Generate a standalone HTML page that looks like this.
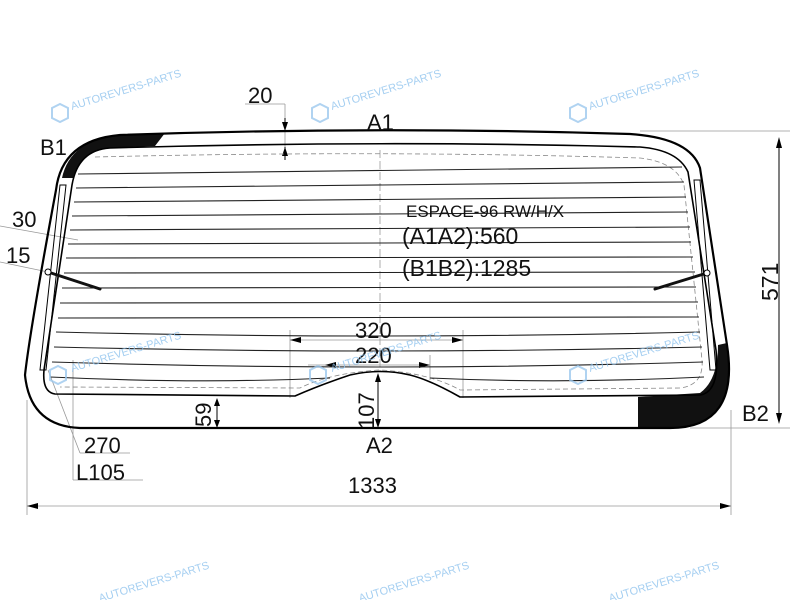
<!DOCTYPE html>
<html><head><meta charset="utf-8"><style>
html,body{margin:0;padding:0;background:#fff;}
svg{display:block;font-family:"Liberation Sans",sans-serif;}
</style></head><body>
<svg width="800" height="600" viewBox="0 0 800 600" xmlns="http://www.w3.org/2000/svg">
<rect width="800" height="600" fill="#fff"/>
<g stroke="#999" stroke-width="0.8" fill="none">
<line x1="640" y1="131" x2="790" y2="131"/>
<line x1="690" y1="428" x2="790" y2="428"/>
<line x1="27" y1="400" x2="27" y2="515"/>
<line x1="731" y1="410" x2="731" y2="515"/>
<line x1="27" y1="506" x2="731" y2="506"/>
<line x1="290" y1="330" x2="290" y2="398"/>
<line x1="463" y1="330" x2="463" y2="398"/>
<line x1="290" y1="340" x2="463" y2="340"/>
<line x1="308" y1="365" x2="430" y2="365"/>
<line x1="430" y1="355" x2="430" y2="380"/>
<line x1="73" y1="360" x2="73" y2="480"/>
<line x1="73" y1="480" x2="143" y2="480"/>
<line x1="80" y1="453" x2="130" y2="453"/>
<line x1="48" y1="370" x2="80" y2="453"/>
<line x1="0" y1="226" x2="78" y2="240"/>
<line x1="0" y1="262" x2="48" y2="272"/>
<line x1="380" y1="150" x2="380" y2="372" stroke-dasharray="8 3"/>
<line x1="285" y1="104" x2="285" y2="160"/>
<line x1="245" y1="104" x2="285" y2="104"/>
</g>
<g fill="#000">
<polygon points="779,137 776,148 782,148"/>
<polygon points="779,424 776,413 782,413"/>
<polygon points="27,506 38,503 38,509"/>
<polygon points="731,506 720,503 720,509"/>
<polygon points="290,340 301,337 301,343"/>
<polygon points="463,340 452,337 452,343"/>
<polygon points="325,365 336,362 336,368"/>
<polygon points="430,365 419,362 419,368"/>
<polygon points="285,131 282,122 288,122"/>
<polygon points="285,147 282,156 288,156"/>
<polygon points="217,398 214,406 220,406"/>
<polygon points="217,428 214,420 220,420"/>
<polygon points="378,373 375,382 381,382"/>
<polygon points="378,428 375,419 381,419"/>
</g>
<g stroke="#000" stroke-width="1">
<line x1="779" y1="140" x2="779" y2="420"/>
<line x1="217" y1="400" x2="217" y2="426"/>
<line x1="378" y1="375" x2="378" y2="426"/>
<line x1="285" y1="118" x2="285" y2="131"/>
<line x1="285" y1="147" x2="285" y2="160"/>
</g>
<path d="M62,178 Q70,140 120,135 L165,133 L155,146 L110,148 Q80,152 73,178 Z" fill="#111"/>
<path d="M638,397 L700,393 Q718,380 718,345 L727,343 Q740,420 680,428 L638,428 Z" fill="#111"/>
<path d="M120,135 Q380,126 630,134 Q690,138 700,168 L727,345 Q740,428 670,428 L80,428 Q30,426 25,375 Q30,330 56,190 Q62,140 120,135 Z" fill="none" stroke="#000" stroke-width="2.2"/>
<path d="M110,148 Q380,140 640,147 Q678,150 688,172 L716,350 Q720,392 700,395 L460,397 Q430,380 410,375 Q380,368 350,375 Q320,385 295,396 L55,394 Q42,392 44,370 L72,185 Q78,150 110,148 Z" fill="none" stroke="#000" stroke-width="1.6"/>
<path d="M95,157 Q380,150 640,158 Q676,162 684,185 L702,360 Q704,385 680,388 L460,390 Q430,373 380,370 Q330,373 300,388 L60,387" fill="none" stroke="#888" stroke-width="0.8" stroke-dasharray="5 3"/>
<path d="M60,185 L40,370 L46,370 L66,185 Z" fill="none" stroke="#000" stroke-width="1"/>
<path d="M700,180 L716,370 L710,370 L694,180 Z" fill="none" stroke="#000" stroke-width="1"/>
<g stroke="#222" stroke-width="1.1" fill="none">
<path d="M78,174 L682,167"/>
<path d="M76,188 L684,182"/>
<path d="M74,202 L686,197"/>
<path d="M72,216 L688,212"/>
<path d="M70,230 L690,227"/>
<path d="M68,244 L691,242"/>
<path d="M66,258 L693,257"/>
<path d="M64,273 L695,272"/>
<path d="M62,288 L696,287"/>
<path d="M60,303 L698,302"/>
<path d="M58,318 L699,317"/>
<path d="M56,332 Q380,340 700,332"/>
<path d="M54,347 Q380,355 702,347"/>
<path d="M52,362 Q380,372 703,362"/>
<path d="M50,377 Q200,384 330,378 M430,378 Q560,384 704,377"/>
</g>
<g stroke="#111" stroke-width="3" stroke-linecap="round">
<line x1="48" y1="272" x2="100" y2="289"/>
<line x1="707" y1="273" x2="655" y2="289"/>
</g>
<circle cx="48" cy="272" r="3" fill="#fff" stroke="#000"/>
<circle cx="707" cy="273" r="3" fill="#fff" stroke="#000"/>
<g fill="#111" font-size="22">
<text x="367" y="130">A1</text>
<text x="40" y="155">B1</text>
<text x="248" y="103">20</text>
<text x="742" y="421">B2</text>
<text x="355" y="338">320</text>
<text x="355" y="363">220</text>
<text x="84" y="453">270</text>
<text x="76" y="480">L105</text>
<text x="366" y="453">A2</text>
<text x="348" y="493">1333</text>
<text x="12" y="227">30</text>
<text x="6" y="263">15</text>
<text x="402" y="244" font-size="23">(A1A2):560</text>
<text x="402" y="276" font-size="23">(B1B2):1285</text>
<text x="406" y="217" font-size="17">ESPACE-96 RW/H/X</text>
<text transform="translate(778,301) rotate(-90)" font-size="23">571</text>
<text transform="translate(211,427) rotate(-90)">59</text>
<text transform="translate(374,429) rotate(-90)">107</text>
</g>
<g fill="none" stroke="#9cc8ee" stroke-width="2" opacity="0.8">
<polygon points="52,108 60,104 68,108 68,118 60,122 52,118"/>
<polygon points="312,108 320,104 328,108 328,118 320,122 312,118"/>
<polygon points="570,108 578,104 586,108 586,118 578,122 570,118"/>
<polygon points="50,370 58,366 66,370 66,380 58,384 50,380"/>
<polygon points="310,370 318,366 326,370 326,380 318,384 310,380"/>
<polygon points="570,370 578,366 586,370 586,380 578,384 570,380"/>
</g>
<g fill="#8fc3ee" font-size="11" opacity="0.8">
<text transform="translate(72,110) rotate(-17)">AUTOREVERS-PARTS</text>
<text transform="translate(332,110) rotate(-17)">AUTOREVERS-PARTS</text>
<text transform="translate(590,110) rotate(-17)">AUTOREVERS-PARTS</text>
<text transform="translate(72,372) rotate(-17)">AUTOREVERS-PARTS</text>
<text transform="translate(332,372) rotate(-17)">AUTOREVERS-PARTS</text>
<text transform="translate(590,372) rotate(-17)">AUTOREVERS-PARTS</text>
<text transform="translate(100,602) rotate(-17)">AUTOREVERS-PARTS</text>
<text transform="translate(360,602) rotate(-17)">AUTOREVERS-PARTS</text>
<text transform="translate(610,602) rotate(-17)">AUTOREVERS-PARTS</text>
</g>
</svg>
</body></html>
